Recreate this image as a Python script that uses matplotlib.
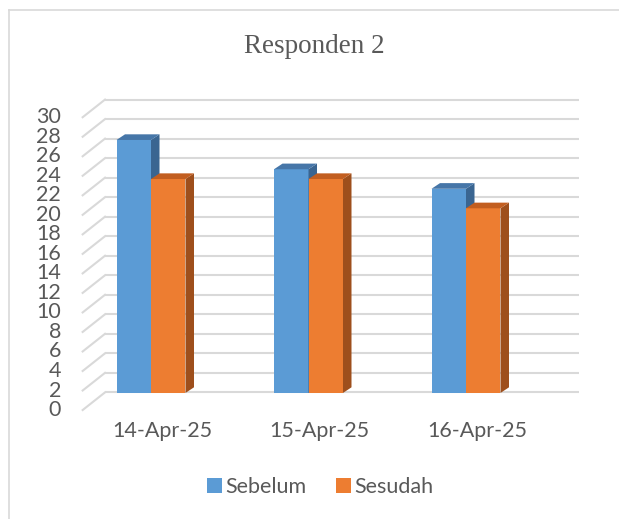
import numpy as np
import matplotlib
matplotlib.use("Agg")
import matplotlib.pyplot as plt
from matplotlib.patches import Polygon, Patch
from matplotlib.lines import Line2D

# chart data
categories = ["14-Apr-25", "15-Apr-25", "16-Apr-25"]
sebelum = [27, 24, 22]
sesudah = [23, 23, 20]
ticks = list(range(0, 31, 2))

# colours (front, top, side)
BLUE = ("#5B9BD5", "#4676A8", "#3A6591")
ORANGE = ("#ED7D31", "#C25E20", "#9E4F1C")
GRID = "#D9D9D9"
TEXT = "#595959"

# pseudo 3d geometry, in data units of the main axes
FLOOR = 1.08          # where the bar fronts meet the floor
WALL_SHIFT = 1.14     # back wall gridlines sit a bit higher
FRONT_SHIFT = -0.67   # front edge of the side wall
WALL_X0, WALL_X1 = -0.292, 2.717
FRONT_X = -0.434
BAR_W = 0.219
DX, DY = 0.054, 0.58  # depth offset of bar tops/sides

W, H = 619, 519
fig = plt.figure(figsize=(W / 100, H / 100), dpi=100)
ax = fig.add_axes([0, 0, 1, 1])
ax.set_xlim((0 - 151) / 157.5, (W - 151) / 157.5)
ax.set_ylim((403.5 - H) / 9.76, 403.5 / 9.76)
ax.axis("off")

font = "Lato"

# back wall + side wall gridlines
for g in ticks:
    yb = g + WALL_SHIFT
    yf = g + FRONT_SHIFT
    ax.plot([WALL_X0, WALL_X1], [yb, yb], color=GRID, lw=1.5, zorder=1,
            solid_capstyle="butt")
    ax.plot([FRONT_X, WALL_X0], [yf, yb], color=GRID, lw=1.5, zorder=1)
    ax.text(-0.571, yf, str(g), ha="right", va="center", fontsize=15.5,
            color=TEXT, family=font)


def draw_bar(xc, v, cols, z):
    front, top, side = cols
    ax.bar(xc, v - FLOOR, width=BAR_W, bottom=FLOOR, color=front,
           edgecolor="none", zorder=z)
    xl, xr = xc - BAR_W / 2, xc + BAR_W / 2
    ax.add_patch(Polygon([(xr, FLOOR), (xr + DX, FLOOR + DY),
                          (xr + DX, v + DY), (xr, v)],
                         closed=True, facecolor=side, edgecolor="none",
                         zorder=z))
    ax.add_patch(Polygon([(xl, v), (xl + DX, v + DY), (xr + DX, v + DY),
                          (xr, v)],
                         closed=True, facecolor=top, edgecolor="none",
                         zorder=z))


x = np.arange(len(categories))
for i in range(len(categories)):
    draw_bar(x[i] - BAR_W / 2, sebelum[i], BLUE, 3)
    draw_bar(x[i] + BAR_W / 2, sesudah[i], ORANGE, 4)
    ax.text(x[i] + 0.07, -2.82, categories[i], ha="center", va="center",
            fontsize=15.5, color=TEXT, family=font)

# title
fig.text(314 / W, 1 - 53 / H, "Responden 2", ha="center", va="baseline",
         fontsize=19.5, color=TEXT, family="Liberation Serif")

# legend
handles = [Patch(facecolor=BLUE[0], edgecolor="none", label="Sebelum"),
           Patch(facecolor=ORANGE[0], edgecolor="none", label="Sesudah")]
leg = fig.legend(handles=handles, loc="center", ncol=2,
                 bbox_to_anchor=(320 / W, 1 - 487 / H), frameon=False,
                 handlelength=0.7, handleheight=0.7, handletextpad=0.15,
                 columnspacing=1.4, prop={"family": font, "size": 15.5})
for t in leg.get_texts():
    t.set_color(TEXT)

# chart border
fig.add_artist(Line2D([9 / W, 9 / W], [0, 1 - 9.5 / H], color=GRID, lw=1.2,
                      transform=fig.transFigure))
fig.add_artist(Line2D([9 / W, 1], [1 - 9.5 / H, 1 - 9.5 / H], color=GRID,
                      lw=1.2, transform=fig.transFigure))

fig.savefig("out.png", dpi=100, facecolor="white")
